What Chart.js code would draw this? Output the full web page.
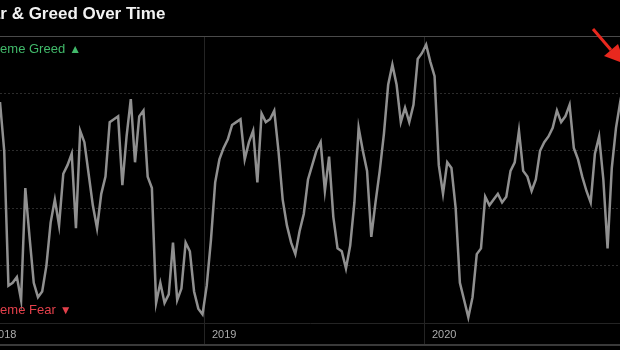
<!DOCTYPE html>
<html>
<head>
<meta charset="utf-8">
<title>Fear &amp; Greed Over Time</title>
<script src="https://cdn.jsdelivr.net/npm/chart.js@4.4.1/dist/chart.umd.min.js"></script>
<style>
    html, body { margin: 0; padding: 0; background: #000; overflow: hidden; }
    body { width: 620px; height: 350px; position: relative; font-family: "Liberation Sans", Arial, sans-serif; }
    #chart-box { position: absolute; left: -40px; top: 0; width: 700px; height: 350px; }
    #title { position: absolute; left: -29px; top: 5px; font-size: 17px; line-height: 17px; font-weight: bold; color: #f2f2f2; white-space: nowrap; }
    .zone { position: absolute; left: -23px; font-size: 13px; line-height: 13px; white-space: nowrap; }
    .zone span { font-size: 12px; margin-left: 4px; }
    #greed { top: 42px; color: #41b96a; }
    #fear { top: 303px; color: #e3404b; }
    #bottom-rule { position: absolute; left: 0; top: 344px; width: 620px; height: 2px; background: #3a3a3a; }
    #arrow { position: absolute; left: 0; top: 0; }
</style>
</head>
<body>
<div id="chart-box"><canvas id="chart"></canvas></div>
<div id="title">Fear &amp; Greed Over Time</div>
<div class="zone" id="greed">Extreme Greed<span>▲</span></div>
<div class="zone" id="fear">Extreme Fear<span>▼</span></div>
<div id="bottom-rule"></div>
<svg id="arrow" width="620" height="80">
    <line x1="593" y1="29" x2="611" y2="50" stroke="#e8281e" stroke-width="3"></line>
    <polygon points="625,64 604,56 618,44" fill="#e8281e"></polygon>
</svg>
<script>
// Años en el eje x (días contados desde el 1 de enero de 2018)
const yearTicks = [0, 365, 730, 1096];
const yearLabels = ['2018', '2019', '2020', '2021'];
const gaugeTicks = [0, 20, 40, 60, 80, 100];

// Lecturas semanales del índice, la primera es el 26 de enero de 2018
const firstDay = 25;
const weekDays = 7;
const values2018 = [77, 60, 13, 14, 16, 8, 47, 30, 14, 9, 11, 20, 35, 43, 34, 52, 55, 59, 33, 67,
    63, 52, 41, 33, 45, 51, 70, 71, 72, 48, 65, 78, 56, 72, 74, 51, 47, 7, 14, 7,
    10, 28, 8, 12, 28, 25, 11, 5, 3];
const values2019 = [13, 29, 49, 57, 61, 64, 69, 70, 71, 57, 63, 67, 49, 73, 70, 71, 74, 60, 43, 34,
    28, 24, 32, 38, 50, 55, 60, 63, 46, 58, 37, 26, 25, 19, 27, 42, 68, 60, 53, 30,
    42, 53, 66, 83, 90, 83, 70, 75, 70, 76, 92, 94];
const values2020 = [97, 91, 86, 55, 45, 56, 54, 40, 14, 8, 2, 9, 24, 26, 44, 41, 43, 45, 42, 44,
    53, 56, 67, 53, 51, 46, 50, 60, 63, 65, 68, 74, 70, 72, 76, 61, 57, 51, 46, 42,
    59, 65, 50, 26, 54, 68, 77, 85];

document.addEventListener('DOMContentLoaded', function () {
    const values = [...values2018, ...values2019, ...values2020];
    const points = values.map((v, i) => ({ x: firstDay + i * weekDays, y: v }));

    // 220 px por año; el lienzo empieza 40 px antes del borde de la página
    const pxPerDay = 220 / 365;
    const xMin = firstDay - 40 / pxPerDay;
    const xMax = firstDay + 660 / pxPerDay;

    const ctx = document.getElementById('chart').getContext('2d');
    new Chart(ctx, {
        type: 'line',
        data: {
            datasets: [{
                label: 'Fear & Greed Index',
                data: points,
                borderColor: '#909090',
                borderWidth: 2.5,
                pointRadius: 0,
                tension: 0,
                fill: false
            }]
        },
        options: {
            responsive: true,
            maintainAspectRatio: false,
            animation: false,
            layout: { padding: { top: 36, left: 0, right: 0, bottom: 0 } },
            plugins: {
                legend: { display: false },
                tooltip: { enabled: false }
            },
            scales: {
                x: {
                    type: 'linear',
                    min: xMin,
                    max: xMax,
                    afterBuildTicks: scale => { scale.ticks = yearTicks.map(v => ({ value: v })); },
                    afterFit: scale => { scale.height = 27; },
                    grid: { color: '#242424', tickLength: 22 },
                    border: { display: true, color: '#242424' },
                    ticks: {
                        align: 'start',
                        labelOffset: 7,
                        padding: -17,
                        maxRotation: 0,
                        autoSkip: false,
                        color: '#ababab',
                        font: { family: '"Liberation Sans", Arial, sans-serif', size: 11 },
                        callback: (value) => yearLabels[yearTicks.indexOf(value)]
                    }
                },
                y: {
                    min: 0,
                    max: 100,
                    afterBuildTicks: scale => { scale.ticks = gaugeTicks.map(v => ({ value: v })); },
                    afterFit: scale => { scale.width = 0; },
                    grid: {
                        drawTicks: false,
                        color: c => (c.tick && c.tick.value === 100) ? '#4a4a4a' : '#2c2c2c'
                    },
                    border: {
                        display: false,
                        dash: c => (c.tick && c.tick.value === 100) ? [] : [2, 2]
                    },
                    ticks: { display: false }
                }
            }
        }
    });
});
</script>
</body>
</html>
